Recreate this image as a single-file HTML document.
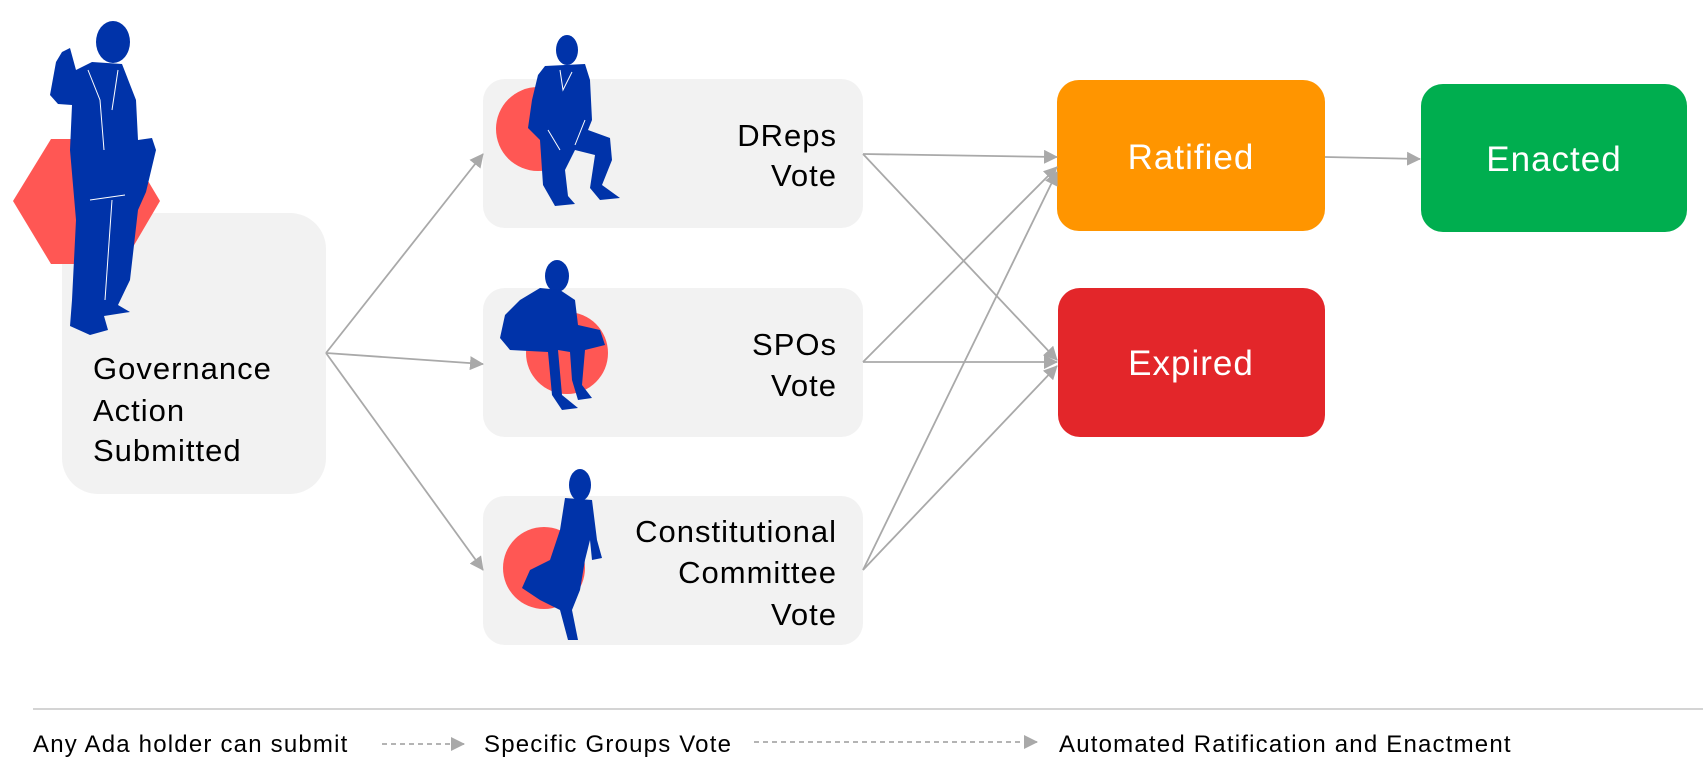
<!DOCTYPE html>
<html><head><meta charset="utf-8"><style>
html,body{margin:0;padding:0;background:#fff;}
body{width:1703px;height:782px;overflow:hidden;position:relative;font-family:"Liberation Sans",sans-serif;}
</style></head><body>
<svg width="1703" height="782" viewBox="0 0 1703 782" xmlns="http://www.w3.org/2000/svg" style="position:absolute;left:0;top:0">
<defs>
<marker id="ah2" markerWidth="14" markerHeight="14" refX="13" refY="7" orient="auto" markerUnits="userSpaceOnUse">
<path d="M0,0 L14,7 L0,14 z" fill="#a9a9a9"/></marker>
</defs>
<rect x="62" y="213" width="264" height="281" rx="36" fill="#f2f2f2"/>
<rect x="483" y="79" width="380" height="149" rx="22" fill="#f2f2f2"/>
<rect x="483" y="288" width="380" height="149" rx="22" fill="#f2f2f2"/>
<rect x="483" y="496" width="380" height="149" rx="22" fill="#f2f2f2"/>
<rect x="1057" y="80" width="268" height="151" rx="22" fill="#ff9500"/>
<rect x="1421" y="84" width="266" height="148" rx="22" fill="#00ae4f"/>
<rect x="1058" y="288" width="267" height="149" rx="22" fill="#e3262a"/>
<polygon points="13,201 51,139 123,139 160,201 123,264 51,264" fill="#ff5754"/>
<circle cx="538" cy="129" r="42" fill="#ff5754"/>
<circle cx="567" cy="353" r="41" fill="#ff5754"/>
<circle cx="544" cy="568" r="41" fill="#ff5754"/>
<g fill="#0033a9">
<ellipse cx="113" cy="42" rx="17" ry="21"/>
<path d="M62,52 L70,48 L76,70 L92,62 L122,64 L136,100 L138,140 L152,138 L156,150 L146,192 L138,210 L130,280 L118,305 L130,312 L104,316 L108,330 L90,335 L70,326 L72,300 L76,220 L70,150 L72,105 L58,104 L50,95 L56,62 z"/>
<ellipse cx="567" cy="50" rx="11" ry="15"/>
<path d="M545,66 L585,64 L590,80 L592,120 L588,130 L610,138 L612,160 L602,185 L620,198 L600,200 L590,188 L595,155 L575,150 L565,170 L568,196 L575,204 L555,206 L543,185 L540,140 L528,128 L532,100 L538,75 z"/>
<ellipse cx="557" cy="276" rx="12" ry="16"/>
<path d="M540,288 L560,290 L575,300 L578,325 L600,330 L605,345 L585,350 L582,385 L592,398 L578,400 L572,380 L570,352 L558,350 L562,395 L578,408 L562,410 L552,395 L548,352 L510,350 L500,338 L505,315 L520,300 z"/>
<ellipse cx="580" cy="485" rx="11" ry="16"/>
<path d="M565,498 L592,500 L597,540 L602,558 L592,560 L590,540 L585,560 L580,590 L572,610 L578,640 L568,640 L560,610 L540,600 L522,588 L530,570 L550,560 L560,530 z"/>
</g>
<g stroke="#ffffff" stroke-width="1" fill="none">
<path d="M88,70 L100,100 L104,150 M118,70 L112,110 M90,200 L125,195 M112,200 L105,300"/>
<path d="M560,70 L563,90 L572,72 M548,130 L560,150 M585,120 L575,145"/>
</g>
<g stroke="#a9a9a9" stroke-width="1.8" fill="none">
<line x1="326" y1="353" x2="483" y2="154" marker-end="url(#ah2)"/>
<line x1="326" y1="353" x2="483" y2="364" marker-end="url(#ah2)"/>
<line x1="326" y1="353" x2="483" y2="570" marker-end="url(#ah2)"/>
<line x1="863" y1="154" x2="1057" y2="157" marker-end="url(#ah2)"/>
<line x1="863" y1="154" x2="1057" y2="360" marker-end="url(#ah2)"/>
<line x1="863" y1="362" x2="1057" y2="167" marker-end="url(#ah2)"/>
<line x1="863" y1="362" x2="1057" y2="362" marker-end="url(#ah2)"/>
<line x1="863" y1="570" x2="1057" y2="172" marker-end="url(#ah2)"/>
<line x1="863" y1="570" x2="1057" y2="366" marker-end="url(#ah2)"/>
<line x1="1325" y1="157" x2="1420" y2="159" marker-end="url(#ah2)"/>
</g>
<line x1="33" y1="709" x2="1703" y2="709" stroke="#d4d4d4" stroke-width="2"/>
<g stroke="#a9a9a9" stroke-width="1.8" stroke-dasharray="5,4" fill="none">
<line x1="382" y1="744" x2="464" y2="744" marker-end="url(#ah2)"/>
<line x1="754" y1="742" x2="1037" y2="742" marker-end="url(#ah2)"/>
</g>
<g font-family="Liberation Sans, sans-serif" fill="#000">
<g font-size="24" letter-spacing="1.2">
<text x="33" y="752">Any Ada holder can submit</text>
<text x="484" y="752">Specific Groups Vote</text>
<text x="1059" y="752">Automated Ratification and Enactment</text>
</g>
<g font-size="31" letter-spacing="1">
<text x="93" y="379">Governance</text>
<text x="93" y="421">Action</text>
<text x="93" y="461">Submitted</text>
<g text-anchor="end">
<text x="837" y="146">DReps</text>
<text x="837" y="186">Vote</text>
<text x="837" y="355">SPOs</text>
<text x="837" y="396">Vote</text>
<text x="837" y="542">Constitutional</text>
<text x="837" y="583">Committee</text>
<text x="837" y="625">Vote</text>
</g>
</g>
<g font-size="35" fill="#fff" text-anchor="middle" letter-spacing="1">
<text x="1191" y="169">Ratified</text>
<text x="1554" y="171">Enacted</text>
<text x="1191" y="375">Expired</text>
</g>
</g>
</svg>
</body></html>
